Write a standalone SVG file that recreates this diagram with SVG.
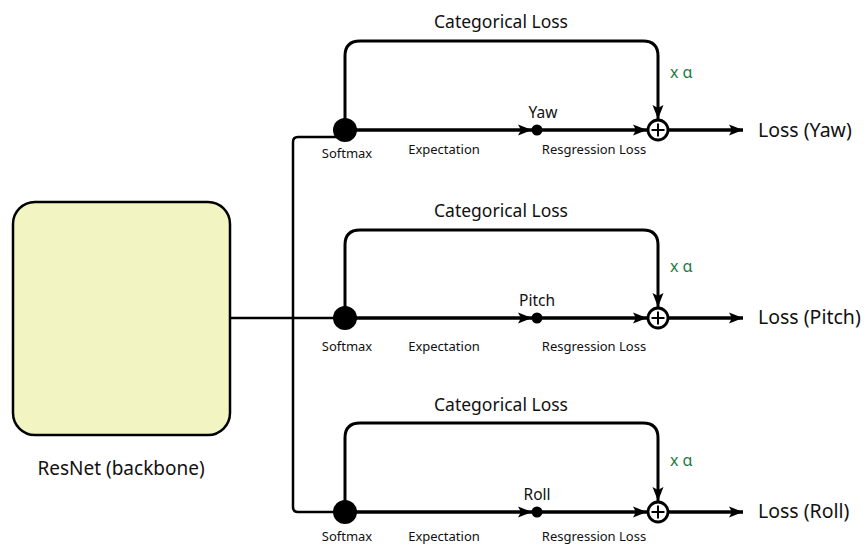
<svg xmlns="http://www.w3.org/2000/svg" width="868" height="544" viewBox="0 0 868 544">
<defs>
<marker id="ah" markerUnits="userSpaceOnUse" markerWidth="15" markerHeight="12" refX="14" refY="5.5" orient="auto" viewBox="0 0 15 11">
<path d="M0,0 L14,5.5 L0,11 L3,5.5 z" fill="#000"/>
</marker>
<style>
.t{font-family:"Noto Sans","Open Sans",sans-serif;fill:#111}
.lg{font-size:17.5px}
.sm{font-size:13px}
.md{font-size:15.5px}
.out{font-size:19.5px}
.g{fill:#1e7b45;font-size:16px}
.row{fill:none;stroke:#000;stroke-width:3.5}
.loop{fill:none;stroke:#000;stroke-width:3}
.thin{fill:none;stroke:#000;stroke-width:2.5}
</style>
</defs>
<rect width="868" height="544" fill="#fff"/>

<g id="connectors">
  <path class="thin" d="M345,137 L298,137 Q293,137 293,142 L293,507 Q293,512 298,512 L345,512"/>
  <path class="thin" d="M230,318 L345,318"/>
  <!-- Yaw -->
  <path class="loop" d="M345,130 L345,56 Q345,41 360,41 L643,41 Q658,41 658,56 L658,119" marker-end="url(#ah)"/>
  <path class="row" d="M350,130 L532,130" marker-end="url(#ah)"/>
  <path class="row" d="M537,130 L647,130" marker-end="url(#ah)"/>
  <path class="row" d="M668,130 L743,130" marker-end="url(#ah)"/>
  <!-- Pitch -->
  <path class="loop" d="M345,318 L345,245 Q345,230 360,230 L643,230 Q658,230 658,245 L658,307" marker-end="url(#ah)"/>
  <path class="row" d="M350,318 L532,318" marker-end="url(#ah)"/>
  <path class="row" d="M537,318 L647,318" marker-end="url(#ah)"/>
  <path class="row" d="M668,318 L743,318" marker-end="url(#ah)"/>
  <!-- Roll -->
  <path class="loop" d="M345,512 L345,438 Q345,423 360,423 L643,423 Q658,423 658,438 L658,501" marker-end="url(#ah)"/>
  <path class="row" d="M350,512 L532,512" marker-end="url(#ah)"/>
  <path class="row" d="M537,512 L647,512" marker-end="url(#ah)"/>
  <path class="row" d="M668,512 L743,512" marker-end="url(#ah)"/>
</g>

<g id="resnet">
  <rect x="13" y="202" width="217" height="233" rx="22" fill="#f2f4c2" stroke="#000" stroke-width="2.5"/>
  <text class="t" x="121" y="475" text-anchor="middle" font-size="19">ResNet (backbone)</text>
</g>

<g id="yaw-branch">
  <circle cx="345" cy="130" r="12" fill="#000"/>
  <circle cx="537" cy="130" r="5.5" fill="#000"/>
  <circle cx="658" cy="130" r="10" fill="#fff" stroke="#000" stroke-width="2.8"/>
  <path d="M651.5,130 H664.5 M658,123.5 V136.5" stroke="#000" stroke-width="2"/>
  <text class="t lg" x="501" y="28" text-anchor="middle">Categorical Loss</text>
  <text class="t g" x="670" y="78">x α</text>
  <text class="t md" x="543" y="118" text-anchor="middle">Yaw</text>
  <text class="t sm" x="347" y="158" text-anchor="middle">Softmax</text>
  <text class="t sm" x="444" y="154" text-anchor="middle">Expectation</text>
  <text class="t sm" x="594" y="154" text-anchor="middle">Resgression Loss</text>
  <text class="t out" x="758" y="137">Loss (Yaw)</text>
</g>

<g id="pitch-branch">
  <circle cx="345" cy="318" r="12" fill="#000"/>
  <circle cx="537" cy="318" r="5.5" fill="#000"/>
  <circle cx="658" cy="318" r="10" fill="#fff" stroke="#000" stroke-width="2.8"/>
  <path d="M651.5,318 H664.5 M658,311.5 V324.5" stroke="#000" stroke-width="2"/>
  <text class="t lg" x="501" y="217" text-anchor="middle">Categorical Loss</text>
  <text class="t g" x="670" y="272">x α</text>
  <text class="t md" x="537" y="306" text-anchor="middle">Pitch</text>
  <text class="t sm" x="347" y="351" text-anchor="middle">Softmax</text>
  <text class="t sm" x="444" y="351" text-anchor="middle">Expectation</text>
  <text class="t sm" x="594" y="351" text-anchor="middle">Resgression Loss</text>
  <text class="t out" x="758" y="324">Loss (Pitch)</text>
</g>

<g id="roll-branch">
  <circle cx="345" cy="512" r="12" fill="#000"/>
  <circle cx="537" cy="512" r="5.5" fill="#000"/>
  <circle cx="658" cy="512" r="10" fill="#fff" stroke="#000" stroke-width="2.8"/>
  <path d="M651.5,512 H664.5 M658,505.5 V518.5" stroke="#000" stroke-width="2"/>
  <text class="t lg" x="501" y="411" text-anchor="middle">Categorical Loss</text>
  <text class="t g" x="670" y="466">x α</text>
  <text class="t md" x="537" y="500" text-anchor="middle">Roll</text>
  <text class="t sm" x="347" y="541" text-anchor="middle">Softmax</text>
  <text class="t sm" x="444" y="541" text-anchor="middle">Expectation</text>
  <text class="t sm" x="594" y="541" text-anchor="middle">Resgression Loss</text>
  <text class="t out" x="758" y="518">Loss (Roll)</text>
</g>
</svg>
